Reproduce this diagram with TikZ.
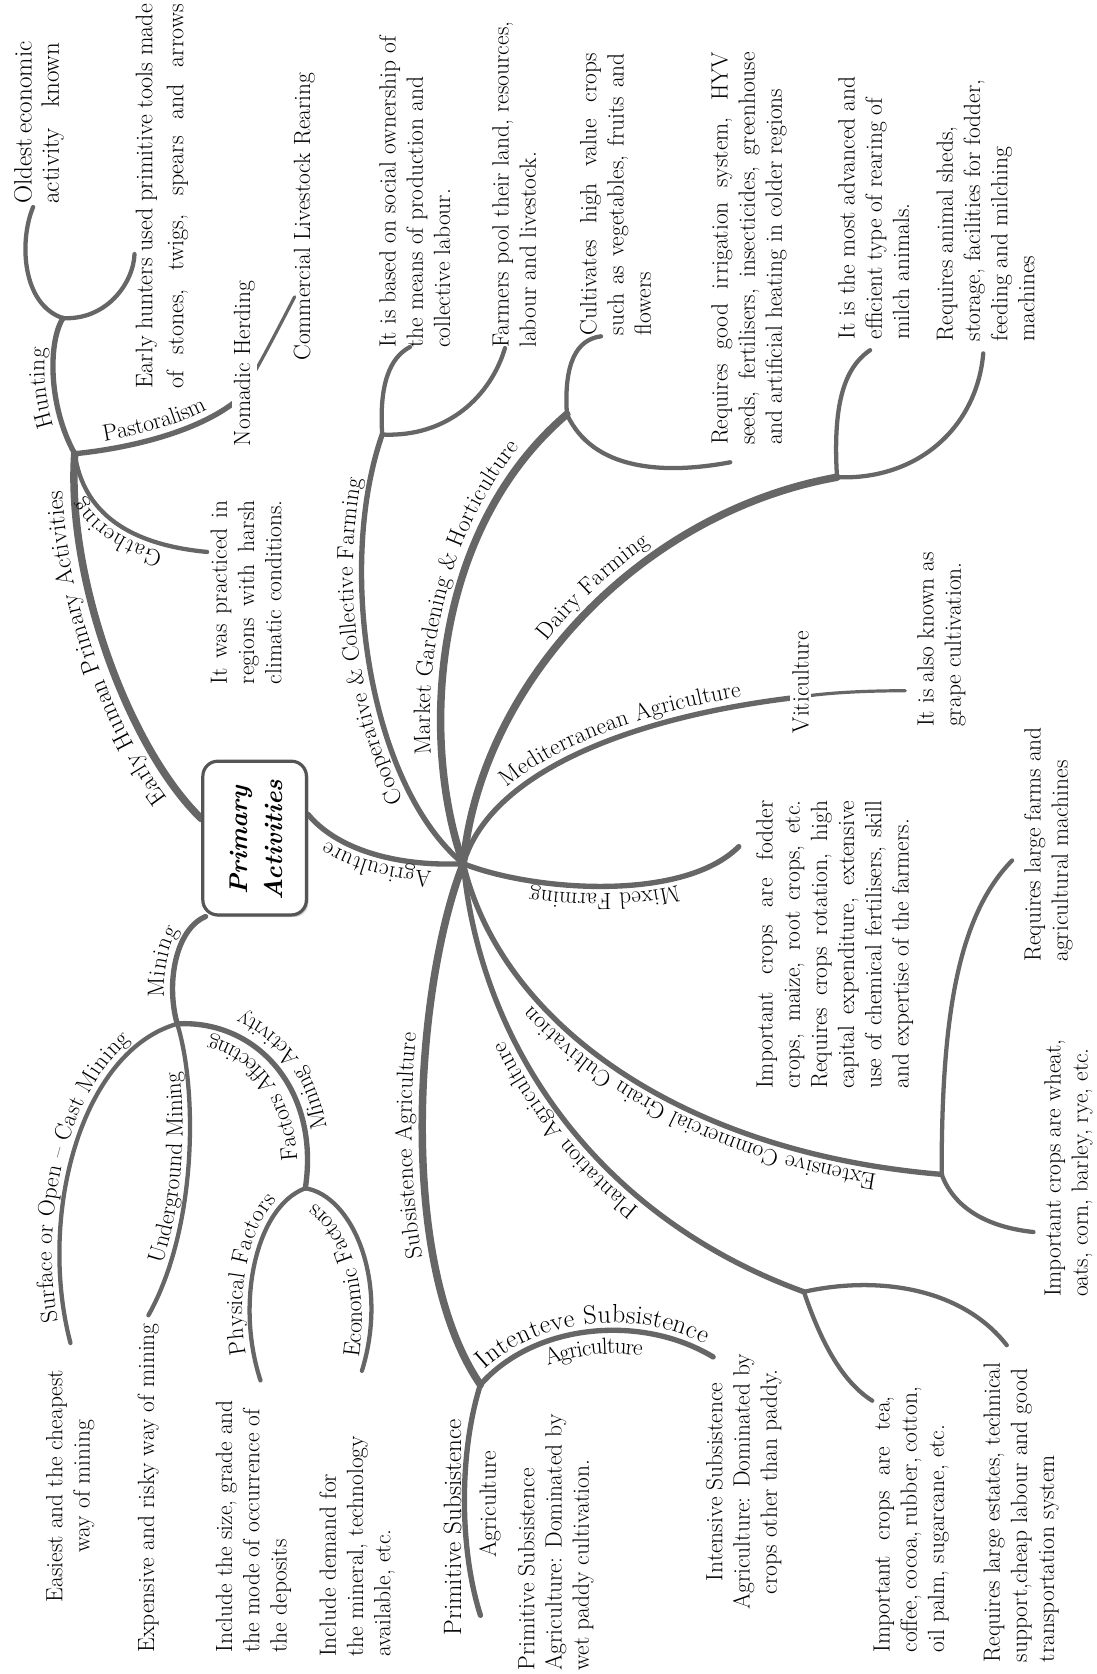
\documentclass[tikz,border=0pt]{standalone}
\usetikzlibrary{decorations.text,backgrounds,shadows}
\definecolor{branch}{HTML}{666666}
\definecolor{boxline}{HTML}{555555}
\newcommand{\txtfont}{\fontsize{22}{25.5}\selectfont}
\newcommand{\titlefont}{\fontsize{24}{33}\selectfont\bfseries\itshape}
\newcommand{\bigfont}{\fontsize{24.5}{28}\selectfont}
\newcommand{\lblbig}{\fontsize{23}{27}\selectfont}
\newcommand{\jl}[2]{\makebox[#1pt][s]{#2}}
\tikzset{
  mainline/.style={draw=branch, line width=7pt, line cap=round},
  midline/.style={draw=branch, line width=5pt, line cap=round},
  subline/.style={draw=branch, line width=4pt, line cap=round},
  thinline/.style={draw=branch, line width=3pt, line cap=round},
  txt/.style={rotate=90, align=left, inner sep=0pt, font=\txtfont},
  lbl/.style n args={3}{postaction={decorate, decoration={text along path, text={#1}, raise=#2, text align={#3}, text color=black}}},
  titlebox/.style={draw=boxline, line width=3pt, rounded corners=14pt, fill=white, minimum width=97pt, minimum height=144pt, drop shadow={shadow xshift=2pt, shadow yshift=-2pt, opacity=0.35}},
}
\begin{document}
\txtfont
\begin{tikzpicture}[x=1pt, y=-1pt]
\useasboundingbox (0,0) rectangle (1027,1568);%

% Marking the central box
\node[titlebox] (pa) at (238.5,785) {};%
\node[rotate=90, align=center, font=\titlefont] (patext) at (240,787) {Primary\\Activities};%

% Marking junction points
\coordinate (hub) at (434,809);%
\coordinate (j1) at (70,425);%
\coordinate (j2) at (59,298);%
\coordinate (j3) at (358,407);%
\coordinate (j4) at (531,388);%
\coordinate (j5) at (784,447);%
\coordinate (j6) at (882,1100);%
\coordinate (j7) at (166,959);%
\coordinate (j8) at (286,1113);%
\coordinate (j9) at (450,1297);%
\coordinate (j10) at (753,1210);%
\coordinate (nh) at (222,375);%
\coordinate (vt) at (748,653);%

% Marking free ends of branches
\coordinate (e-old) at (31,194);%
\coordinate (e-hun) at (126,238);%
\coordinate (e-com) at (276,278);%
\coordinate (e-gat) at (194,517);%
\coordinate (e-soc) at (384,325);%
\coordinate (e-poo) at (473,326);%
\coordinate (e-cul) at (563,315);%
\coordinate (e-irr) at (684,433);%
\coordinate (e-adv) at (815,328);%
\coordinate (e-she) at (921,331);%
\coordinate (e-gra) at (848,647);%
\coordinate (e-mix) at (692,793);%
\coordinate (e-far) at (948,806);%
\coordinate (e-whe) at (968,1154);%
\coordinate (e-tea) at (817,1312);%
\coordinate (e-est) at (943,1260);%
\coordinate (e-int) at (668,1271);%
\coordinate (e-pri) at (450,1513);%
\coordinate (e-sur) at (66,1258);%
\coordinate (e-und) at (139,1232);%
\coordinate (e-phy) at (244,1293);%
\coordinate (e-eco) at (339,1284);%

\begin{pgfonlayer}{background}
\fill[white] (0,0) rectangle (1027,1568);%

% Drawing branch Early Human Primary Activities
\draw[mainline, lbl={|\lblbig|Early Human Primary Activities}{11pt}{center}] (pa.160) .. controls (120,700) and (62,540) .. (j1);%
% Drawing branch Hunting
\draw[midline, lbl={Hunting}{8pt}{center}] (j1) .. controls (45,380) and (45,320) .. (j2);%
\draw[subline] (j2) .. controls (20,285) and (18,225) .. (e-old);%
\draw[subline] (j2) .. controls (100,300) and (125,265) .. (e-hun);%
% Drawing branch Pastoralism
\draw[midline, lbl={Pastoralism}{8pt}{center}] (j1) .. controls (120,420) and (185,405) .. (nh);%
\draw[thinline] (nh) .. controls (235,358) and (262,305) .. (e-com);%
% Drawing branch Gathering
\draw[subline, lbl={Gathering}{7pt}{center}] (e-gat) .. controls (120,510) and (78,480) .. (j1);%

% Drawing branch Agriculture
\draw[midline, lbl={Agriculture}{7pt}{center}] (hub) .. controls (370,812) and (315,795) .. (pa.24);%
% Drawing branch Cooperative & Collective Farming
\draw[midline, lbl={Cooperative {\&} Collective Farming}{8pt}{left, left indent=80pt}] (hub) .. controls (345,735) and (315,530) .. (j3);%
\draw[subline] (j3) .. controls (355,360) and (365,335) .. (e-soc);%
\draw[subline] (j3) .. controls (420,410) and (460,370) .. (e-poo);%
% Drawing branch Market Gardening & Horticulture
\draw[mainline, lbl={Market Gardening {\&} Horticulture}{10pt}{left, left indent=105pt}] (hub) .. controls (395,700) and (400,500) .. (j4);%
\draw[subline] (j4) .. controls (528,340) and (540,318) .. (e-cul);%
\draw[subline] (j4) .. controls (555,440) and (620,445) .. (e-irr);%
% Drawing branch Dairy Farming
\draw[mainline, lbl={Dairy Farming}{10pt}{left, left indent=222pt}] (hub) .. controls (450,640) and (600,480) .. (j5);%
\draw[subline] (j5) .. controls (780,380) and (790,345) .. (e-adv);%
\draw[subline] (j5) .. controls (860,450) and (915,400) .. (e-she);%
% Drawing branch Mediterranean Agriculture
\draw[midline, lbl={Mediterranean Agriculture}{8pt}{left, left indent=80pt}] (hub) .. controls (460,720) and (600,670) .. (vt);%
\draw[thinline] (vt) .. controls (780,648) and (820,647) .. (e-gra);%
% Drawing branch Mixed Farming
\draw[midline, lbl={Mixed Farming}{7pt}{center}] (e-mix) .. controls (640,845) and (500,835) .. (hub);%
% Drawing branch Extensive Commercial Grain Cultivation
\draw[midline, lbl={Extensive Commercial Grain Cultivation}{7pt}{left, left indent=60pt}] (j6) .. controls (640,1080) and (470,960) .. (hub);%
\draw[subline] (j6) .. controls (882,960) and (895,860) .. (e-far);%
\draw[subline] (j6) .. controls (895,1135) and (930,1150) .. (e-whe);%
% Drawing branch Plantation Agriculture
\draw[midline, lbl={Plantation Agriculture}{8pt}{left, left indent=172pt}] (j10) .. controls (560,1140) and (450,980) .. (hub);%
\draw[subline] (j10) .. controls (770,1260) and (790,1295) .. (e-tea);%
\draw[subline] (j10) .. controls (820,1195) and (900,1205) .. (e-est);%
% Drawing branch Subsistence Agriculture
\draw[mainline, lbl={Subsistence Agriculture}{10pt}{left, left indent=130pt}] (j9) .. controls (370,1180) and (390,920) .. (hub);%
\draw[midline, lbl={|\bigfont|Intenteve Subsistence}{7pt}{center}, lbl={Agriculture}{-22pt}{center}] (j9) .. controls (500,1240) and (600,1230) .. (e-int);%
\draw[midline] (j9) .. controls (430,1360) and (430,1450) .. (e-pri);%

% Drawing branch Mining
\draw[midline, lbl={Mining}{8pt}{center}] (j7) .. controls (155,920) and (165,870) .. (pa.238);%
\draw[subline, lbl={Surface or Open – Cast Mining}{7pt}{left, left indent=22pt}] (e-sur) .. controls (35,1140) and (75,985) .. (j7);%
\draw[subline, lbl={Underground Mining}{7pt}{left, left indent=50pt}] (e-und) .. controls (185,1150) and (185,1020) .. (j7);%
\draw[midline] (j8) .. controls (300,1020) and (240,955) .. (j7);%
\path[lbl={Factors Affecting}{0pt}{center}] (278,1118) .. controls (285,1030) and (245,970) .. (166,967);%
\path[lbl={Mining Activity}{0pt}{center}] (308,1118) .. controls (318,1010) and (260,935) .. (165,937);%
\draw[subline, lbl={Physical Factors}{7pt}{center}] (e-phy) .. controls (220,1220) and (240,1130) .. (j8);%
\draw[subline] (j8) .. controls (330,1120) and (365,1200) .. (e-eco);%
\path[lbl={Economic Factors}{0pt}{center}] (331,1296) .. controls (352,1215) and (330,1130) .. (272,1118);%
\end{pgfonlayer}

% Writing texts of Early Human Primary Activities
\node[txt, anchor=north west, font=\fontsize{23.5}{25.5}\selectfont] (oldest) at (13,191) {\jl{151}{Oldest economic}\\\jl{151}{activity known}};%
\node[txt, anchor=north west, font=\fontsize{22.5}{29}\selectfont] (hunters) at (127,364) {\jl{360}{Early hunters used primitive tools made}\\\jl{360}{of stones, twigs, spears and arrows}};%
\node[txt, anchor=west, fill=white, inner sep=2pt] (nomadic) at (229,420) {Nomadic Herding};%
\node[txt, anchor=west] (livestock) at (285,338) {Commercial Livestock Rearing};%
\node[txt, anchor=north west] (harsh) at (197,641) {\jl{172}{It was practiced in}\\\jl{172}{regions with harsh}\\\jl{172}{climatic conditions.}};%

% Writing texts of Agriculture
\node[txt, anchor=north west] (social) at (355,326) {It is based on social ownership of\\the means of production and\\collective labour.};%
\node[txt, anchor=north west] (pool) at (461,326) {Farmers pool their land, resources,\\labour and livestock.};%
\node[txt, anchor=north west] (highvalue) at (543,314) {\jl{264}{Cultivates high value crops}\\\jl{264}{such as vegetables, fruits and}\\flowers};%
\node[txt, anchor=north west] (irrigation) at (666,417) {\jl{368}{Requires good irrigation system, HYV}\\\jl{368}{seeds, fertilisers, insecticides, greenhouse}\\and artificial heating in colder regions};%
\node[txt, anchor=north west] (advanced) at (785,318) {It is the most advanced and\\efficient type of rearing of\\milch animals.};%
\node[txt, anchor=north west] (sheds) at (877,320) {Requires animal sheds,\\storage, facilities for fodder,\\feeding and milching\\machines};%
\node[txt, anchor=west, fill=white, inner sep=2pt] (viti) at (750,689) {Viticulture};%
\node[txt, anchor=north west] (grape) at (859,681) {It is also known as\\grape cultivation.};%
\node[txt, anchor=north west] (fodder) at (708,1020) {\jl{270}{Important crops are fodder}\\\jl{270}{crops, maize, root crops, etc.}\\\jl{270}{Requires crops rotation, high}\\\jl{270}{capital expenditure, extensive}\\\jl{270}{use of chemical fertilisers, skill}\\and expertise of the farmers.};%
\node[txt, anchor=north west] (farms) at (959,901) {Requires large farms and\\agricultural machines};%
\node[txt, anchor=north west] (wheat) at (978,1215) {Important crops are wheat,\\oats, corn, barley, rye, etc.};%
\node[txt, anchor=north west] (estates) at (921,1557) {Requires large estates, technical\\support,cheap labour and good\\transportation system};%
\node[txt, anchor=north west] (tea) at (818,1548) {\jl{240}{Important crops are tea,}\\\jl{240}{coffee, cocoa, rubber, cotton,}\\oil palm, sugarcane, etc.};%
\node[txt, align=center, anchor=north] (intensive) at (661,1388) {Intensive Subsistence\\Agriculture: Dominated by\\crops other than paddy.};%
\node[txt, anchor=west, font=\fontsize{23.5}{27}\selectfont] (primlbl) at (424,1532) {Primitive Subsistence};%
\node[txt] (primlbl2) at (459,1409) {Agriculture};%
\node[txt, anchor=north west] (primitive) at (485,1565) {Primitive Subsistence\\Agriculture: Dominated by\\wet paddy cultivation.};%

% Writing texts of Mining
\node[txt, align=center, anchor=north] (easiest) at (43,1392) {Easiest and the cheapest\\way of mining};%
\node[txt, anchor=west] (risky) at (139,1548) {Expensive and risky way of mining};%
\node[txt, anchor=north west] (size) at (202,1548) {Include the size, grade and\\the mode of occurrence of\\the deposits};%
\node[txt, anchor=north west] (demand) at (299,1552) {Include demand for\\the mineral, technology\\available, etc.};%
\end{tikzpicture}
\end{document}
